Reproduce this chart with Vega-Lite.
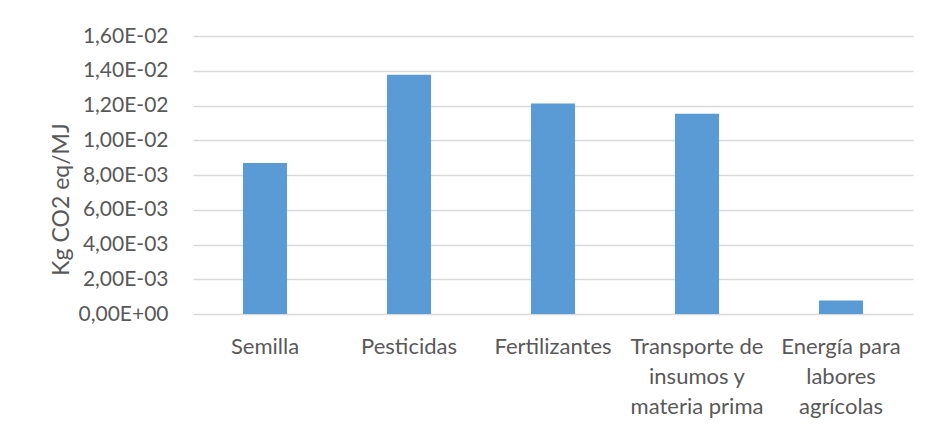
{
  "$schema": "https://vega.github.io/schema/vega-lite/v6.json",
  "width": 720,
  "height": 278,
  "autosize": {"type": "none"},
  "padding": {"left": 193, "top": 36, "right": 18, "bottom": 119},
  "background": "white",
  "config": {
    "view": {"stroke": null},
    "font": "Lato"
  },
  "data": {
    "values": [
      {"categoria": "Semilla", "valor": 0.00869},
      {"categoria": "Pesticidas", "valor": 0.01377},
      {"categoria": "Fertilizantes", "valor": 0.01212},
      {"categoria": "Transporte de insumos y materia prima", "valor": 0.01153},
      {"categoria": "Energía para labores agrícolas", "valor": 0.00077}
    ]
  },
  "mark": {"type": "bar", "color": "#5B9BD5"},
  "encoding": {
    "x": {
      "field": "categoria",
      "type": "nominal",
      "sort": null,
      "scale": {"paddingInner": 0.694, "paddingOuter": 0.347},
      "axis": {
        "title": null,
        "labelAngle": 0,
        "domain": false,
        "ticks": false,
        "labelPadding": 32,
        "labelBaseline": "middle",
        "labelFont": "Lato",
        "labelFontSize": 22,
        "labelColor": "#595959",
        "labelLineHeight": 30,
        "labelLimit": 300,
        "labelExpr": "datum.label == 'Transporte de insumos y materia prima' ? ['Transporte de', 'insumos y', 'materia prima'] : datum.label == 'Energía para labores agrícolas' ? ['Energía para', 'labores', 'agrícolas'] : datum.label"
      }
    },
    "y": {
      "field": "valor",
      "type": "quantitative",
      "scale": {"domain": [0, 0.016], "nice": false},
      "axis": {
        "title": "Kg CO2 eq/MJ",
        "values": [0, 0.002, 0.004, 0.006, 0.008, 0.01, 0.012, 0.014, 0.016],
        "labelExpr": "datum.value == 0 ? '0,00E+00' : replace(format(datum.value / pow(10, floor(log(datum.value) / LN10 + 1e-9)), '.2f'), '.', ',') + 'E' + (floor(log(datum.value) / LN10 + 1e-9) < 0 ? '-' : '+') + pad(toString(abs(floor(log(datum.value) / LN10 + 1e-9))), 2, '0', 'left')",
        "domain": false,
        "ticks": false,
        "labelPadding": 25,
        "labelFont": "Lato",
        "labelFontSize": 21,
        "labelColor": "#595959",
        "grid": true,
        "gridColor": "#d9d9d9",
        "gridWidth": 1.3,
        "titleFont": "Lato",
        "titleFontSize": 23,
        "titleFontWeight": "normal",
        "titleColor": "#595959",
        "titleAngle": -90,
        "titleAlign": "center",
        "titleBaseline": "alphabetic",
        "titleX": -125,
        "titleY": 163
      }
    }
  }
}
